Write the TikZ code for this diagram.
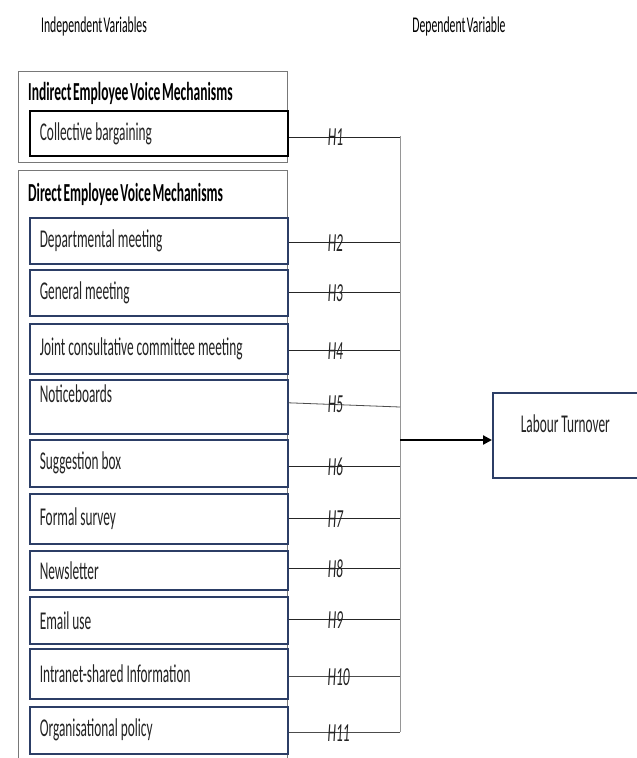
\documentclass[tikz,border=0pt]{standalone}
\usepackage{fontspec}
\setmainfont{Carlito}[FakeStretch=0.52, WordSpace=0.55]
\usetikzlibrary{arrows.meta}
\definecolor{navy}{RGB}{44,62,102}
\definecolor{outergray}{RGB}{120,120,120}
\definecolor{linegray}{RGB}{150,150,150}
\definecolor{txt}{RGB}{35,35,35}
\begin{document}
\begin{tikzpicture}[x=1pt,y=-1pt,
  itembox/.style={draw=navy, line width=1.6pt, anchor=north west, text width=238pt, align=left,
    inner xsep=10pt, inner ysep=0pt, font=\fontsize{25.6}{28}\selectfont, text=txt,
    execute at begin node={\spaceskip=3pt\relax\xspaceskip=3pt\relax}},
  outerbox/.style={draw=outergray, line width=0.8pt, anchor=north west, inner sep=0pt},
  headtxt/.style={anchor=west, inner sep=0pt, font=\fontsize{26}{28}\selectfont\bfseries, text=black},
  vartxt/.style={inner sep=0pt, font=\fontsize{22.5}{25}\selectfont, text=black},
  hline/.style={draw=black!85, line width=0.8pt},
  vline/.style={draw=linegray, line width=1pt},
  hlab/.style={inner sep=0pt, pos=0.42, font=\fontsize{26}{28}\selectfont\itshape, text=txt},
  arr/.style={-{Triangle[length=9pt,width=9pt]}, line width=2.2pt, draw=black}
]
\clip (0,0) rectangle (637,758);
\fill[white] (0,0) rectangle (637,758);

% headings
\node[vartxt] (iv) at (94,26) {Independent Variables};
\node[vartxt] (dv) at (459,26) {Dependent Variable};

% outer boxes
\node[outerbox, minimum width=269pt, minimum height=91pt] (ind) at (18,71) {};
\node[outerbox, minimum width=269pt, minimum height=620pt] (dir) at (18,170) {};
\node[headtxt] (indh) at (28,93) {Indirect Employee Voice Mechanisms};
\node[headtxt] (dirh) at (28,194) {Direct Employee Voice Mechanisms};

% item boxes
\node[itembox, draw=black, line width=1.8pt, minimum height=45pt] (b1) at (29,110) {Collective bargaining};
\node[itembox, minimum height=46pt] (b2) at (29,217) {Departmental meeting};
\node[itembox, minimum height=46pt] (b3) at (29,269) {General meeting};
\node[itembox, minimum height=50pt] (b4) at (29,323) {Joint consultative committee meeting};
\node[itembox, minimum height=54pt, text depth=26pt] (b5) at (29,379) {Noticeboards};
\node[itembox, minimum height=47pt] (b6) at (29,439) {Suggestion box};
\node[itembox, minimum height=50pt] (b7) at (29,493) {Formal survey};
\node[itembox, minimum height=39pt] (b8) at (29,550) {Newsletter};
\node[itembox, minimum height=47pt] (b9) at (29,596) {Email use};
\node[itembox, minimum height=50pt] (b10) at (29,648) {Intranet-shared Information};
\node[itembox, minimum height=47pt] (b11) at (29,706) {Organisational policy};

% dependent variable box
\node[itembox, text width=125pt, align=center, minimum height=85pt, text depth=24pt] (lt) at (492,392) {Labour Turnover};

% spine
\coordinate (top) at (400,136);
\coordinate (bot) at (400,732);
\draw[vline] (top) -- (bot);

% connectors
\draw[hline] ([yshift=-3.5pt]b1.east) -- node[hlab]{H1} ([yshift=-3.5pt]b1.east -| top);
\draw[hline] ([yshift=-2pt]b2.east) -- node[hlab]{H2} ([yshift=-2pt]b2.east -| top);
\draw[hline] (b3.east) -- node[hlab]{H3} (b3.east -| top);
\draw[hline] ([yshift=-2pt]b4.east) -- node[hlab]{H4} ([yshift=-2pt]b4.east -| top);
\coordinate (h5end) at (400,407);
\draw[hline, draw=black!70] ([yshift=4pt]b5.east) -- node[hlab, pos=0.42]{H5} (h5end);
\draw[hline] ([yshift=-3.5pt]b6.east) -- node[hlab]{H6} ([yshift=-3.5pt]b6.east -| top);
\draw[hline] (b7.east) -- node[hlab]{H7} (b7.east -| top);
\draw[hline] ([yshift=1.5pt]b8.east) -- node[hlab]{H8} ([yshift=1.5pt]b8.east -| top);
\draw[hline] ([yshift=0.5pt]b9.east) -- node[hlab]{H9} ([yshift=0.5pt]b9.east -| top);
\draw[hline, draw=black!70] ([yshift=-3pt]b10.east) -- node[hlab, pos=0.45]{H10} ([yshift=-3pt]b10.east -| top);
\draw[hline, draw=black!70] ([yshift=-2.5pt]b11.east) -- node[hlab, pos=0.45]{H11} ([yshift=-2.5pt]b11.east -| top);

% arrow to dependent variable
\coordinate (astart) at (400,440);
\draw[arr] (astart) -- (astart -| lt.west);
\end{tikzpicture}
\end{document}
